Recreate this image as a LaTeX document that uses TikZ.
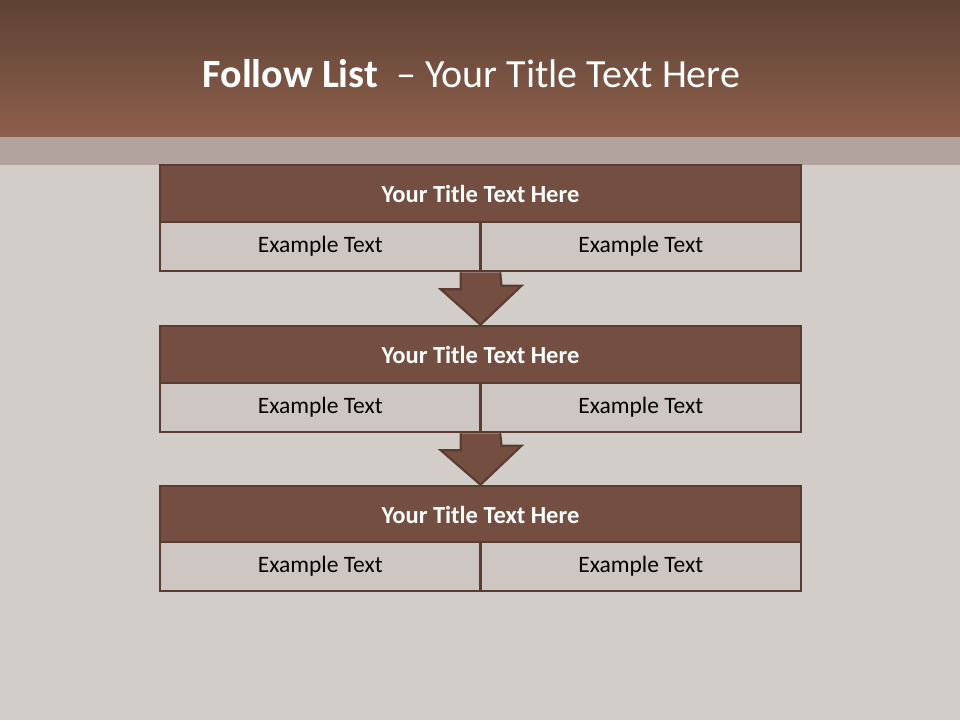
\documentclass[tikz,border=0pt]{standalone}
\usepackage{fontspec}
\setmainfont{Carlito}
\usepackage{tikz}
\usetikzlibrary{calc}

\definecolor{hdrtop}{HTML}{5E4234}
\definecolor{hdrbot}{HTML}{8D5F4C}
\definecolor{bandcol}{HTML}{B2A39E}
\definecolor{slidebg}{HTML}{D2CDC9}
\definecolor{rowbrown}{HTML}{744F41}
\definecolor{edgebrown}{HTML}{5B3C31}
\definecolor{cellgrey}{HTML}{CDC6C3}

\tikzset{
  titlerow/.style={draw=edgebrown, line width=2.6pt, fill=rowbrown, minimum width=641pt,
    minimum height=57pt, inner sep=0pt, text=white, font=\fontsize{24.5}{28}\selectfont\bfseries},
  cellbox/.style={draw=edgebrown, line width=2.6pt, fill=cellgrey, minimum width=320.5pt,
    minimum height=49pt, inner sep=0pt, text=black, font=\fontsize{23.5}{27}\selectfont},
  blockarrow/.style={draw=edgebrown, line width=2.2pt, fill=rowbrown, line join=miter}
}

\begin{document}
\begin{tikzpicture}[x=1pt,y=-1pt]
\useasboundingbox (0,0) rectangle (960,720);
% slide background
\fill[slidebg] (0,0) rectangle (960,720);
\shade[top color=hdrtop, bottom color=hdrbot] (0,0) rectangle (960,137);
\fill[bandcol] (0,137) rectangle (960,165);
\node[anchor=base, text=white, font=\fontsize{40}{46}\selectfont] (slidetitle) at (471.5,87)
  {\textbf{Follow List} \ -- Your Title Text Here};

% first block
\node[titlerow] (title1) at (480.5,193.5) {Your Title Text Here};
\node[cellbox] (cellA1) at (320.25,246.5) {Example Text};
\node[cellbox] (cellB1) at (640.75,246.5) {Example Text};

% second block
\node[titlerow] (title2) at (480.5,354.5) {Your Title Text Here};
\node[cellbox] (cellA2) at (320.25,407.5) {Example Text};
\node[cellbox] (cellB2) at (640.75,407.5) {Example Text};

% third block
\node[titlerow] (title3) at (480.5,514.5) {Your Title Text Here};
\node[cellbox] (cellA3) at (320.25,566.5) {Example Text};
\node[cellbox] (cellB3) at (640.75,566.5) {Example Text};

% arrows between blocks
\draw[blockarrow] ($(cellA1.south east)+(-21,0)$) -- ++(0,17) -- ++(-20,0)
  -- (title2.north) -- ++(41,-39) -- ++(-20,0) -- ($(cellB1.south west)+(21,0)$);
\draw[blockarrow] ($(cellA2.south east)+(-21,0)$) -- ++(0,17) -- ++(-20,0)
  -- (title3.north) -- ++(41,-39) -- ++(-20,0) -- ($(cellB2.south west)+(21,0)$);
\end{tikzpicture}
\end{document}
